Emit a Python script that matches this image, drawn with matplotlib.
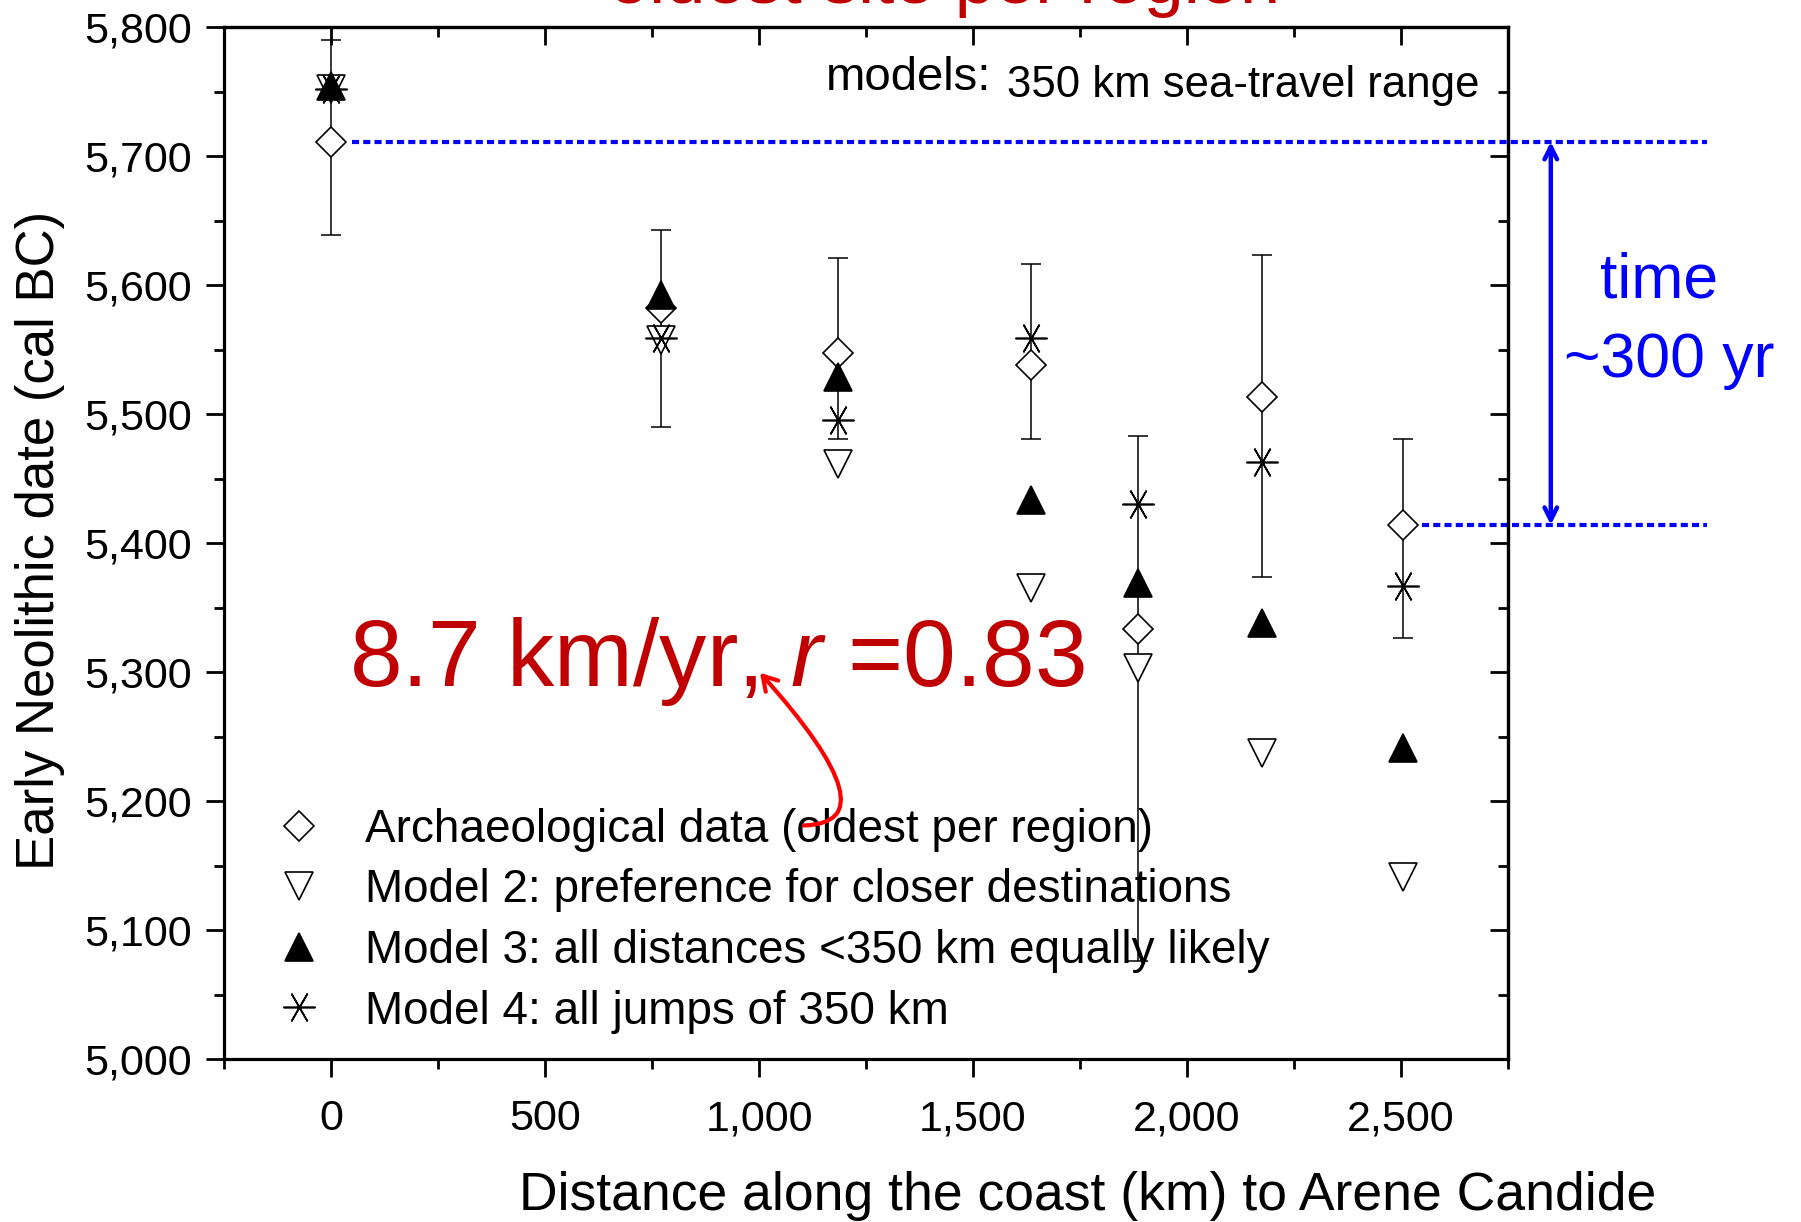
import matplotlib
matplotlib.use("Agg")
import matplotlib.pyplot as plt
from matplotlib.ticker import MultipleLocator, FuncFormatter
from matplotlib.patches import FancyArrowPatch

plt.rcParams['font.family'] = ['Liberation Sans', 'DejaVu Sans']
plt.rcParams['mathtext.fontset'] = 'custom'
plt.rcParams['mathtext.it'] = 'Liberation Sans:italic'
plt.rcParams['mathtext.rm'] = 'Liberation Sans'

# ---- data ----
distance_km = [0, 770, 1185, 1635, 1885, 2175, 2505]
arch_date = [5711, 5582, 5547, 5538, 5333, 5513, 5414]
arch_upper = [5790, 5643, 5621, 5616, 5483, 5623, 5481]
arch_lower = [5639, 5490, 5481, 5481, 5076, 5374, 5326]
model2 = [5752, 5557, 5461, 5365, 5303, 5237, 5141]
model3 = [5754, 5592, 5529, 5433, 5369, 5338, 5241]
model4 = [5752, 5559, 5495, 5559, 5430, 5463, 5367]

labels = ["Archaeological data (oldest per region)",
          "Model 2: preference for closer destinations",
          "Model 3: all distances <350 km equally likely",
          "Model 4: all jumps of 350 km"]

W, H = 1801, 1222
fig = plt.figure(figsize=(W / 100, H / 100), dpi=100)
ax = fig.add_axes([224 / W, 1 - 1059 / H, (1508 - 224) / W, (1059 - 27) / H])

err_lo = [a - l for a, l in zip(arch_date, arch_lower)]
err_hi = [u - a for a, u in zip(arch_date, arch_upper)]
ax.errorbar(distance_km, arch_date, yerr=[err_lo, err_hi], fmt='none',
            ecolor='black', elinewidth=1.1, capsize=7.5, capthick=1.1, zorder=2)

h_arch, = ax.plot(distance_km, arch_date, ls='none', marker='D', ms=15,
                  mfc='white', mec='black', mew=1.2, zorder=3)
h_m2, = ax.plot(distance_km, model2, ls='none', marker='v', ms=19.5,
                mfc='white', mec='black', mew=1.2, zorder=4)
h_m4, = ax.plot(distance_km, model4, ls='none', marker=(6, 2, 90), ms=23,
                mfc='none', mec='black', mew=1.2, zorder=5)
h_m3, = ax.plot(distance_km, model3, ls='none', marker='^', ms=19.5,
                mfc='black', mec='black', mew=1.2, zorder=6)

ax.set_xlim(-250, 2750)
ax.set_ylim(5000, 5800)
ax.xaxis.set_major_locator(MultipleLocator(500))
ax.xaxis.set_minor_locator(MultipleLocator(250))
ax.yaxis.set_major_locator(MultipleLocator(100))
ax.yaxis.set_minor_locator(MultipleLocator(50))
fmt = FuncFormatter(lambda v, p: f"{int(round(v)):,}")
ax.xaxis.set_major_formatter(fmt)
ax.yaxis.set_major_formatter(fmt)

for s in ax.spines.values():
    s.set_linewidth(2.3)
ax.tick_params(which='major', direction='out', length=13, width=2, labelsize=31,
               top=False, right=False)
ax.tick_params(which='minor', direction='out', length=7, width=2, top=False, right=False)
ax.tick_params(axis='y', which='major', pad=10)
ax.tick_params(axis='x', which='major', pad=16)

secx = ax.secondary_xaxis('top')
secx.xaxis.set_major_locator(MultipleLocator(500))
secx.xaxis.set_minor_locator(MultipleLocator(250))
secx.tick_params(which='major', direction='in', length=13, width=2, labeltop=False)
secx.tick_params(which='minor', direction='in', length=7, width=2)
secx.spines['top'].set_linewidth(2.3)
secy = ax.secondary_yaxis('right')
secy.yaxis.set_major_locator(MultipleLocator(100))
secy.yaxis.set_minor_locator(MultipleLocator(50))
secy.tick_params(which='major', direction='in', length=13, width=2, labelright=False)
secy.tick_params(which='minor', direction='in', length=7, width=2)
secy.spines['right'].set_linewidth(2.3)

# axis labels
fig.text(40 / W, 1 - 540 / H, "Early Neolithic date (cal BC)", rotation=90,
         ha='center', va='center', fontsize=38)
fig.text(1088 / W, 1 - 1196 / H, "Distance along the coast (km) to Arene Candide",
         ha='center', va='center', fontsize=38.5)

# cut-off title at the top
fig.text(945 / W, 1 - 3 / H, "oldest site per region", ha='center', va='baseline',
         fontsize=52, color='#C00000')

# models note
ax.text(1156, 5751, "models:", fontsize=34, ha='left', va='baseline')
ax.text(1579, 5746, "350 km sea-travel range", fontsize=31.5, ha='left', va='baseline')

# legend
leg = ax.legend([h_arch, h_m2, h_m3, h_m4], labels, loc='upper left',
                bbox_to_anchor=(276 / W, 1 - 808 / H), bbox_transform=fig.transFigure,
                frameon=False, fontsize=33, handlelength=1.0, handletextpad=0.95,
                labelspacing=0.36, borderpad=0, borderaxespad=0, numpoints=1)

# red speed annotation
ax.text(42, 5289, r"8.7 km/yr, $\mathit{r}$ =0.83", fontsize=68, color='#C00000',
        ha='left', va='baseline', zorder=7)
arr = FancyArrowPatch((1098, 5181), (998, 5301),
                      connectionstyle="angle3,angleA=0,angleB=-48",
                      arrowstyle='->,head_length=10,head_width=6', color='#FF0000',
                      lw=3, zorder=8)
ax.add_patch(arr)

# blue time-span annotation
blue = '#0000FF'
ax.plot([distance_km[0] + 48, 3215], [arch_date[0], arch_date[0]], color=blue, lw=3.0,
        ls=(0, (1.7, 1.0)), dash_capstyle='butt', clip_on=False, zorder=1)
ax.plot([distance_km[-1] + 45, 3215], [arch_date[-1], arch_date[-1]], color=blue, lw=3.0,
        ls=(0, (1.7, 1.0)), dash_capstyle='butt', clip_on=False, zorder=1)
ax.annotate("", xy=(2850, arch_date[0]), xytext=(2850, arch_date[-1]),
            arrowprops=dict(arrowstyle='<->,head_length=0.9,head_width=0.45',
                            color=blue, lw=3.2, shrinkA=0, shrinkB=0),
            annotation_clip=False)
ax.text(3103, 5590, "time", fontsize=45, color=blue, ha='center', va='baseline')
ax.text(3126, 5529, "~300 yr", fontsize=45, color=blue, ha='center', va='baseline')

fig.savefig("out.png", dpi=100)
